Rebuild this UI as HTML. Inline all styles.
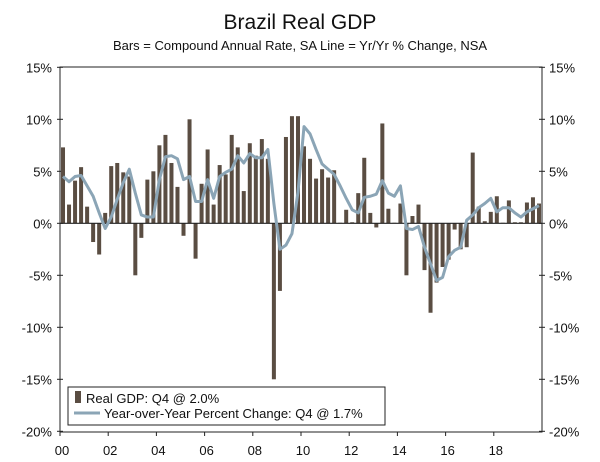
<!DOCTYPE html>
<html><head><meta charset="utf-8"><style>
body{margin:0;background:#fff;font-family:"Liberation Sans",sans-serif;}
</style></head><body>
<svg width="600" height="457" xmlns="http://www.w3.org/2000/svg" font-family="Liberation Sans, sans-serif">
<text x="300" y="29" text-anchor="middle" font-size="21" fill="#111">Brazil Real GDP</text>
<text x="300" y="50" text-anchor="middle" font-size="13" fill="#111">Bars = Compound Annual Rate, SA Line = Yr/Yr % Change, NSA</text>
<g id="plot"></g>
</svg>
<script>
const bars=[7.3,1.8,4.1,5.4,1.6,-1.8,-3.0,1.0,5.5,5.8,4.9,4.5,-5.0,-1.4,4.2,5.0,7.5,8.5,5.8,3.5,-1.2,10.0,-3.4,3.8,7.1,1.8,5.6,4.7,8.5,7.3,3.1,7.7,6.5,8.1,6.2,-15.0,-6.5,8.3,10.3,10.3,7.4,6.2,4.3,5.2,4.4,5.1,0.05,1.3,0.1,2.9,6.3,1.0,-0.4,9.6,1.4,0.05,1.9,-5.0,0.7,1.8,-4.5,-8.6,-5.7,-4.2,-3.5,-0.6,-2.5,-2.3,6.8,1.6,0.2,1.1,2.6,0.05,2.2,0.1,0.1,2.0,2.5,1.9];
const yoy=[4.5,4.0,4.5,4.6,3.6,2.6,1.0,-0.5,0.6,2.3,3.9,5.2,2.9,0.8,0.6,0.6,4.2,6.4,6.5,6.2,4.2,4.5,2.1,2.1,4.2,2.4,4.5,4.9,5.2,6.5,5.8,6.7,6.3,6.3,7.1,1.9,-2.5,-2.1,-1.0,3.0,9.3,8.6,7.1,5.7,5.2,4.7,3.6,2.4,1.3,1.0,2.5,2.6,2.8,4.1,2.9,2.6,3.6,-0.5,-0.6,-0.3,-2.3,-3.9,-5.5,-5.2,-3.2,-2.6,-2.3,0.3,0.8,1.5,1.9,2.4,1.1,1.5,1.5,1.0,0.6,1.1,1.4,1.7];
const yTicks=[15,10,5,0,-5,-10,-15,-20];
const xLabels=["00","02","04","06","08","10","12","14","16","18"];
const L=60,R=542,T=67,B=432,N=80,qw=(R-L)/N;
const y=v=>223.3-v*10.4;
const x=i=>L+qw*(i+0.5);
const ns="http://www.w3.org/2000/svg",g=document.getElementById('plot');
function mk(t,a){const e=document.createElementNS(ns,t);for(const k in a)e.setAttribute(k,a[k]);g.appendChild(e);return e;}
let e=mk('rect',{x:L,y:T,width:R-L,height:B-T,fill:'none',stroke:'#222','stroke-width':1});


yTicks.forEach(v=>{
 let t=mk('line',{x1:L-3,x2:L+3,y1:y(v),y2:y(v),stroke:'#222'});
 
 t=mk('line',{x1:R-3,x2:R+3,y1:y(v),y2:y(v),stroke:'#222'});
 
 let a=mk('text',{x:L-8,y:y(v)+5,'text-anchor':'end','font-size':13,fill:'#111'});a.textContent=v+'%';
 
 a=mk('text',{x:R+7,y:y(v)+5,'font-size':13,fill:'#111'});a.textContent=v+'%';
 
});
xLabels.forEach((s,k)=>{
 const xi=L+qw*8*k;
 let t=mk('line',{x1:xi,x2:xi,y1:B,y2:B+4,stroke:'#222'});
 
 let a=mk('text',{x:xi+2,y:455,'text-anchor':'middle','font-size':13,fill:'#111'});a.textContent=s;
 
});
bars.forEach((v,i)=>{
 const r=mk('rect',{x:x(i)-2,y:Math.min(y(v),y(0)),width:4,height:Math.max(Math.abs(y(v)-y(0)),0.6),fill:'#5a4d42'});
 
 
});
e=mk('line',{x1:L,x2:R,y1:y(0),y2:y(0),stroke:'#222','stroke-width':1.2});

e=mk('polyline',{points:yoy.map((v,i)=>x(i)+','+y(v)).join(' '),fill:'none',stroke:'#8ba5b6','stroke-width':3,'stroke-linejoin':'round'});

e=mk('rect',{x:68,y:387,width:317,height:38,fill:'#fff',stroke:'#222'});

e=mk('rect',{x:75,y:391,width:6,height:12,fill:'#5a4d42'});

e=mk('text',{x:86,y:403,'font-size':13,fill:'#111'});e.textContent='Real GDP: Q4 @ 2.0%';

e=mk('line',{x1:74,x2:100,y1:413,y2:413,stroke:'#8ba5b6','stroke-width':3});

e=mk('text',{x:104,y:418,'font-size':13,fill:'#111'});e.textContent='Year-over-Year Percent Change: Q4 @ 1.7%';

</script>
</body></html>
